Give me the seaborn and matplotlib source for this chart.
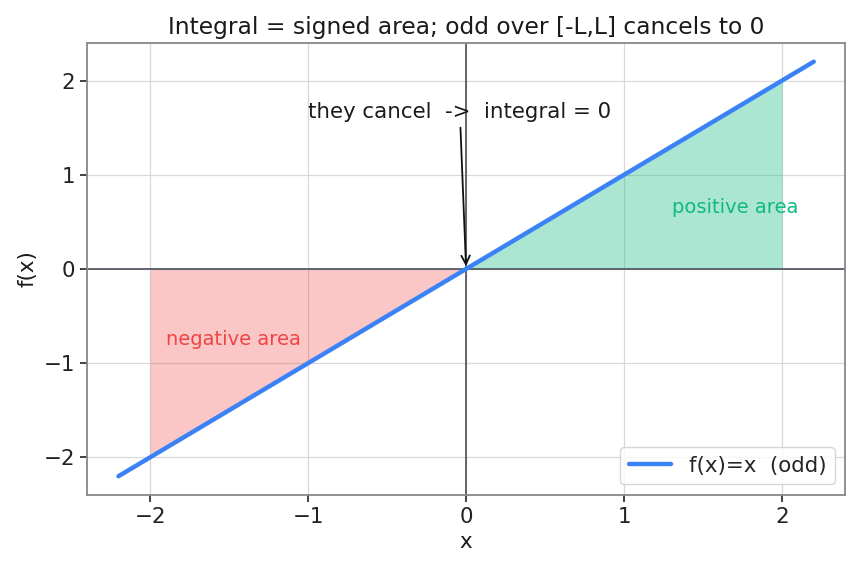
import matplotlib
matplotlib.use("Agg")
import matplotlib.pyplot as plt
import seaborn as sns
import pandas as pd

# data
line_x = [-2.2, 2.2]
line_y = [-2.2, 2.2]
neg_x = [-2.0, 0.0]
neg_y = [-2.0, 0.0]
pos_x = [0.0, 2.0]
pos_y = [0.0, 2.0]
x_ticks = [-2, -1, 0, 1, 2]
y_ticks = [-2, -1, 0, 1, 2]

sns.set_theme(style="whitegrid", rc={
    "axes.edgecolor": "#888888",
    "axes.linewidth": 1.3,
    "grid.color": "#d9d9d9",
    "grid.linewidth": 0.9,
    "xtick.bottom": True,
    "ytick.left": True,
    "xtick.color": "#222222",
    "ytick.color": "#222222",
    "xtick.major.size": 5,
    "ytick.major.size": 5,
    "xtick.major.width": 1.2,
    "ytick.major.width": 1.2,
})
plt.rcParams['font.family'] = ['DejaVu Sans']

fig = plt.figure(figsize=(8.6, 5.71), dpi=100)
ax = fig.add_axes([0.101, 0.133, 0.882, 0.792])

df = pd.DataFrame({"x": line_x, "y": line_y})
ax.fill_between(neg_x, neg_y, 0, color="#ef4444", alpha=0.3, linewidth=0)
ax.fill_between(pos_x, pos_y, 0, color="#10b981", alpha=0.35, linewidth=0)
ax.axhline(0, color="#555b66", linewidth=1.3, zorder=1)
ax.axvline(0, color="#555b66", linewidth=1.3, zorder=1)
sns.lineplot(data=df, x="x", y="y", ax=ax, color="#3b82f6", linewidth=3.2,
             label="f(x)=x  (odd)", zorder=3)

ax.text(1.3, 0.65, "positive area", color="#10b981", fontsize=14, ha="left", va="center")
ax.text(-1.9, -0.75, "negative area", color="#ef4444", fontsize=14, ha="left", va="center")
ax.annotate("they cancel  ->  integral = 0", xy=(0, 0), xytext=(-0.04, 1.67),
            ha="center", va="center", fontsize=15.4, color="#1a1a1a",
            arrowprops=dict(arrowstyle="->", color="#111111", lw=1.3))

ax.set_xlim(-2.4, 2.4)
ax.set_ylim(-2.4, 2.4)
ax.set_xticks(x_ticks)
ax.set_yticks(y_ticks)
ax.tick_params(labelsize=15.4)
ax.set_xlabel("x", fontsize=15.4, color="#1a1a1a")
ax.set_ylabel("f(x)", fontsize=15.4, color="#1a1a1a")
ax.set_title("Integral = signed area; odd over [-L,L] cancels to 0", fontsize=16.8, color="#1a1a1a")
ax.legend(loc="lower right", fontsize=15.4, frameon=True)

fig.savefig("out.png", dpi=100)
